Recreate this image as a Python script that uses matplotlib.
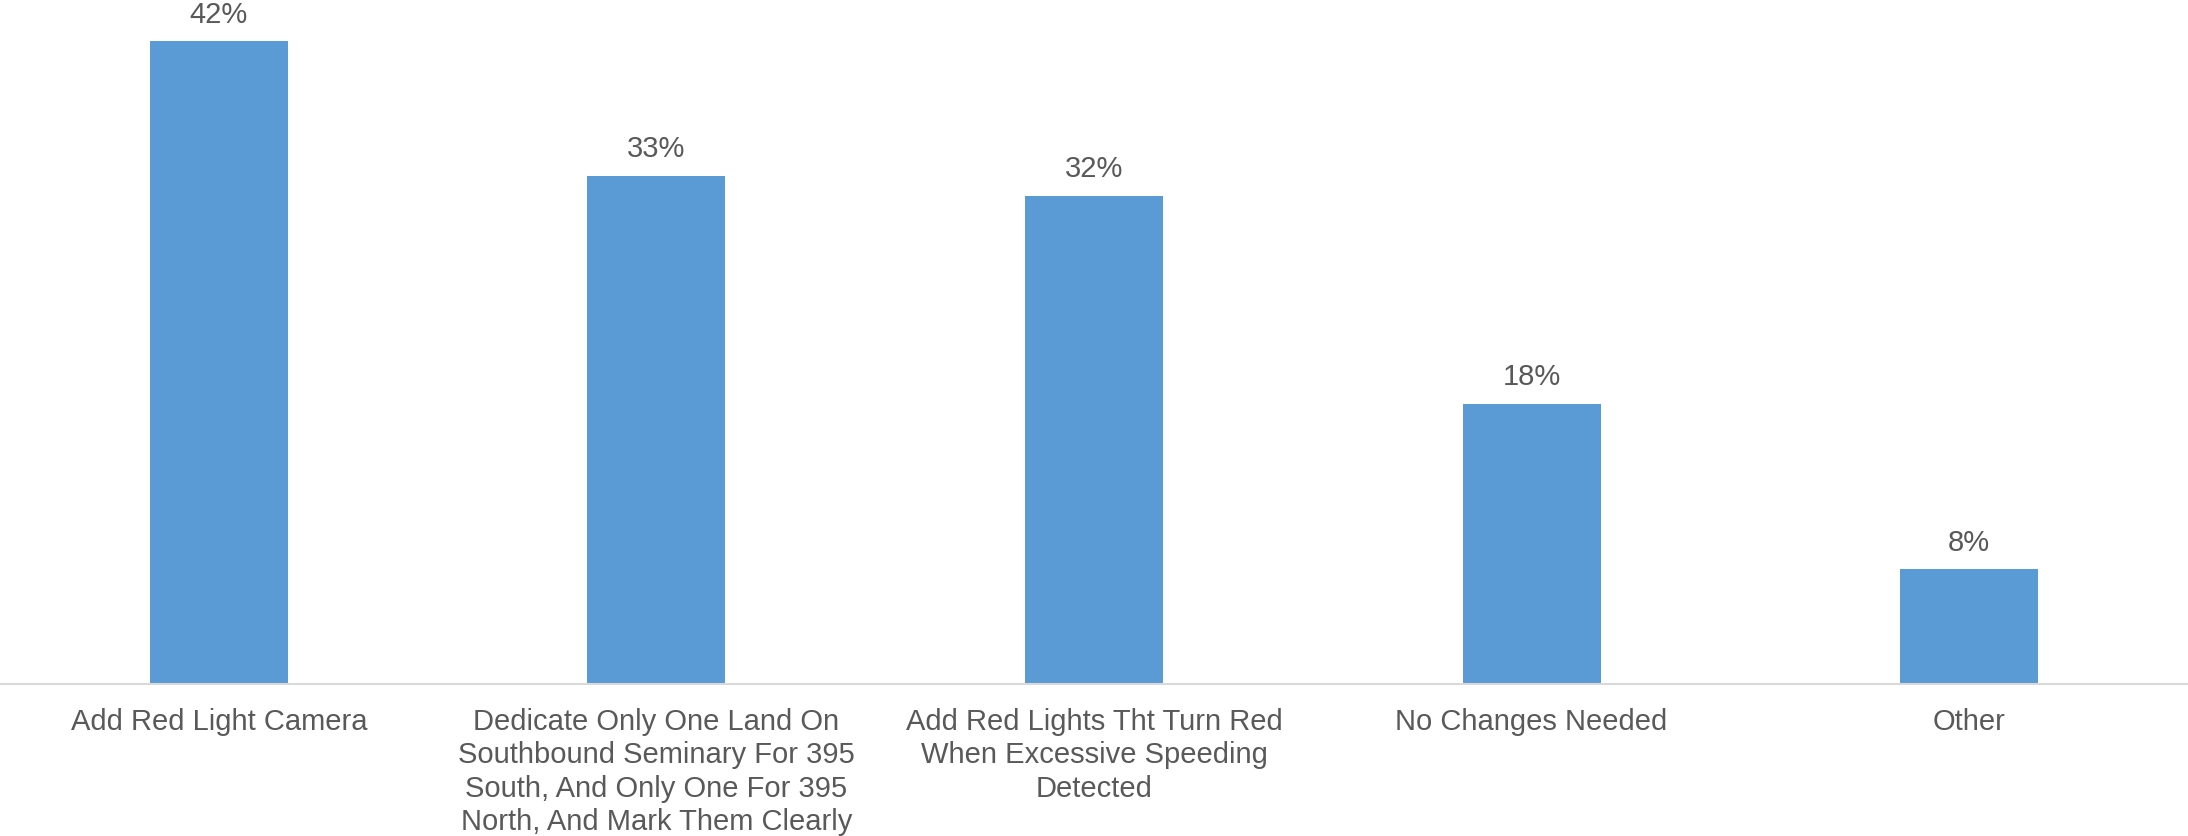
import numpy as np
import matplotlib.pyplot as plt

categories = [
    "Add Red Light Camera",
    "Dedicate Only One Land On\nSouthbound Seminary For 395\nSouth, And Only One For 395\nNorth, And Mark Them Clearly",
    "Add Red Lights Tht Turn Red\nWhen Excessive Speeding\nDetected",
    "No Changes Needed",
    "Other",
]
values = [42, 33.2, 31.9, 18.3, 7.5]
labels = ["42%", "33%", "32%", "18%", "8%"]

plt.rcParams['font.family'] = ['Liberation Sans', 'DejaVu Sans']
text_color = "#595959"

fig = plt.figure(figsize=(21.88, 8.36), dpi=100)
ax = fig.add_axes([0, 0.1818, 1, 0.8182])

x = np.arange(len(categories))
bars = ax.bar(x, values, width=0.315, color="#5B9BD5")

for b, lab in zip(bars, labels):
    ax.annotate(lab, (b.get_x() + b.get_width() / 2, b.get_height()),
                xytext=(0, 9), textcoords="offset points",
                ha="center", va="bottom", fontsize=21, color=text_color)

ax.set_xlim(-0.5, len(categories) - 0.5)
ax.set_ylim(0, 44.7)
ax.set_xticks(x)
ax.set_xticklabels(categories, fontsize=21, color=text_color, linespacing=1.25)
ax.tick_params(axis="x", length=0, pad=17)
ax.set_yticks([])
for s in ["top", "right", "left"]:
    ax.spines[s].set_visible(False)
ax.spines["bottom"].set_color("#D9D9D9")
ax.spines["bottom"].set_linewidth(1.5)

fig.savefig("out.png", dpi=100)
